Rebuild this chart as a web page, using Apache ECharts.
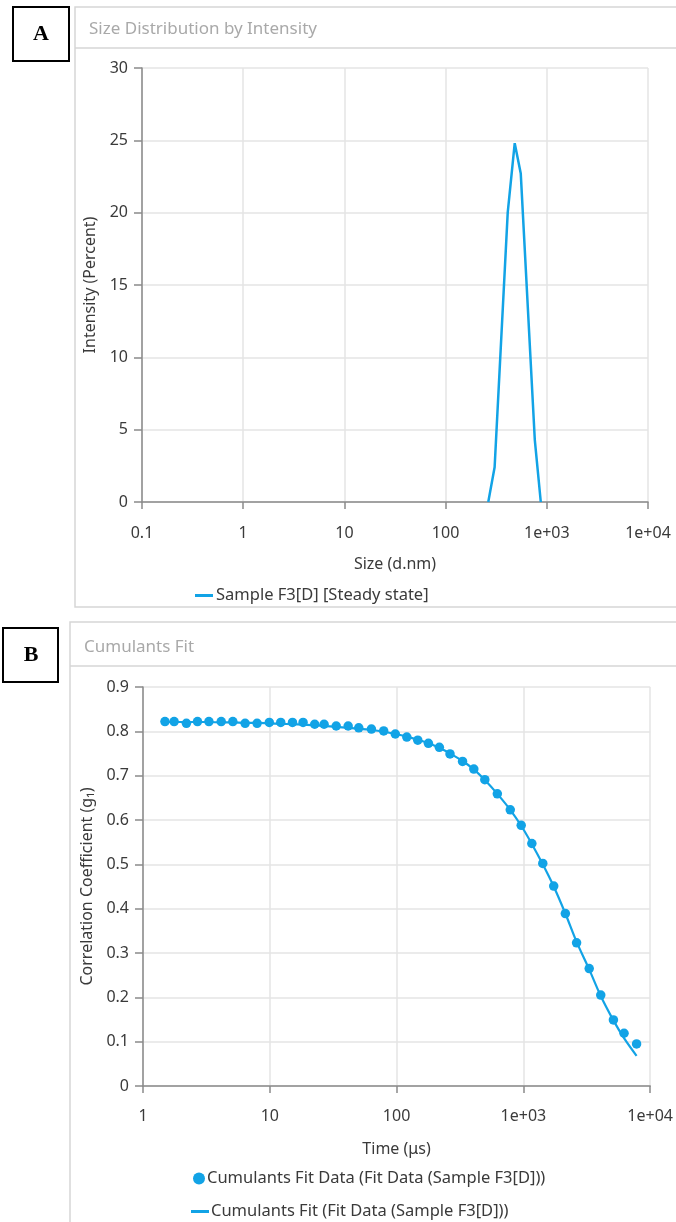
<!DOCTYPE html>
<html>
<head>
<meta charset="utf-8">
<script src="https://cdn.jsdelivr.net/npm/echarts@6/dist/echarts.min.js"></script>
<style>
html,body{margin:0;padding:0;background:#fff;}
#c{width:676px;height:1222px;}
</style>
</head>
<body>
<div id="c"></div>
<script>
// ---- Panel A data: size distribution by intensity ----
var sizeNm = [264, 305, 411, 482, 553, 761, 872];
var intensityPct = [0, 2.4, 20.0, 24.8, 22.7, 4.3, 0];
var sizeTickLabels = ['0.1', '1', '10', '100', '1e+03', '1e+04'];
var intensityTicks = [0, 5, 10, 15, 20, 25, 30];

// ---- Panel B data: cumulants fit ----
var timeUs = [1.49, 1.76, 2.20, 2.69, 3.31, 4.14, 5.11, 6.39, 7.94, 9.91,
  12.2, 15.1, 18.3, 22.6, 26.8, 33.4, 41.5, 50.3, 63.3, 79.1,
  97.7, 120.4, 146.9, 178.2, 217.4, 263.8, 331.3, 406.6, 496.5, 623,
  788, 961, 1166, 1422, 1735, 2143, 2628, 3304, 4076, 5129, 6220, 7811];
var gData = [0.822, 0.822, 0.818, 0.822, 0.822, 0.822, 0.822, 0.818, 0.818, 0.820,
  0.820, 0.820, 0.820, 0.816, 0.816, 0.812, 0.812, 0.808, 0.805, 0.801,
  0.794, 0.787, 0.780, 0.773, 0.764, 0.749, 0.732, 0.715, 0.691, 0.659,
  0.623, 0.588, 0.547, 0.502, 0.451, 0.389, 0.323, 0.265, 0.205, 0.149, 0.119, 0.095];
var gFit = [0.821, 0.821, 0.821, 0.821, 0.821, 0.820, 0.820, 0.819, 0.819, 0.818,
  0.817, 0.816, 0.815, 0.814, 0.812, 0.810, 0.808, 0.806, 0.803, 0.799,
  0.794, 0.788, 0.781, 0.773, 0.763, 0.750, 0.733, 0.714, 0.690, 0.659,
  0.623, 0.587, 0.546, 0.500, 0.450, 0.389, 0.325, 0.263, 0.203, 0.148, 0.108, 0.068];
var timeTickLabels = ['1', '10', '100', '1e+03', '1e+04'];
var gTicks = [0, 0.1, 0.2, 0.3, 0.4, 0.5, 0.6, 0.7, 0.8, 0.9];

var BLUE = '#12a3e6';
var FONT = '"Noto Sans", "Open Sans", sans-serif';
var AXIS = '#8a8a8a';
var GRID = '#e4e4e4';
var TXT = '#3a3a3a';
var FS = 16;

function zip(a, b) { return a.map(function (v, i) { return [v, b[i]]; }); }

function logLabel(labels, minExp) {
  return function (v) {
    var k = Math.round(Math.log(v) / Math.LN10) - minExp;
    return labels[k] !== undefined ? labels[k] : '';
  };
}

var chart = echarts.init(document.getElementById('c'), null, { renderer: 'canvas' });

function xAxisCommon(min, max, labels, minExp, name, gap, margin) {
  return {
    type: 'log', logBase: 10, min: min, max: max,
    name: name, nameLocation: 'middle', nameGap: gap,
    nameTextStyle: { color: TXT, fontSize: FS, fontFamily: FONT },
    axisLine: { show: true, lineStyle: { color: AXIS, width: 1.5 } },
    axisTick: { show: true, inside: false, length: 7, lineStyle: { color: AXIS, width: 1.5 } },
    axisLabel: { color: TXT, fontSize: FS, fontFamily: FONT, margin: margin, formatter: logLabel(labels, minExp) },
    splitLine: { show: true, lineStyle: { color: GRID, width: 1.5 } },
    minorTick: { show: false }
  };
}
function yAxisCommon(min, max, interval, name, gap, fmt) {
  return {
    type: 'value', min: min, max: max, interval: interval,
    name: name, nameLocation: 'middle', nameGap: gap,
    nameTextStyle: { color: TXT, fontSize: FS, fontFamily: FONT },
    axisLine: { show: true, lineStyle: { color: AXIS, width: 1.5 } },
    axisTick: { show: true, length: 8, lineStyle: { color: AXIS, width: 1.5 } },
    axisLabel: { color: TXT, fontSize: FS, fontFamily: FONT, margin: 14, formatter: fmt },
    splitLine: { show: true, lineStyle: { color: GRID, width: 1.5 } }
  };
}

var option = {
  animation: false,
  backgroundColor: '#ffffff',
  grid: [
    { left: 142, top: 68, width: 506, height: 434 },
    { left: 143, top: 687, width: 510, height: 399 }
  ],
  xAxis: [
    Object.assign(xAxisCommon(0.1, 10000, sizeTickLabels, -1, 'Size (d.nm)', 54, 23), { gridIndex: 0 }),
    Object.assign(xAxisCommon(1, 10000, timeTickLabels, 0, 'Time (\u03bcs)', 55, 22), { gridIndex: 1 })
  ],
  yAxis: [
    Object.assign(yAxisCommon(intensityTicks[0], intensityTicks[intensityTicks.length - 1], 5, 'Intensity (Percent)', 41,
      function (v) { return String(v); }), { gridIndex: 0 }),
    Object.assign(yAxisCommon(gTicks[0], gTicks[gTicks.length - 1], 0.1, 'Correlation Coefficient (g\u2081)', 47,
      function (v) { return String(Math.round(v * 10) / 10); }), { gridIndex: 1 })
  ],
  legend: [
    {
      data: [{ name: 'Sample F3[D] [Steady state]', icon: 'rect' }],
      left: 190, top: 582, itemWidth: 18, itemHeight: 3, itemGap: 10,
      textStyle: { color: TXT, fontSize: 16.5, fontFamily: FONT, padding: [0, 0, 0, -2] }
    },
    {
      data: [{ name: 'Cumulants Fit Data (Fit Data (Sample F3[D]))', icon: 'circle' }],
      left: 188, top: 1165, itemWidth: 12, itemHeight: 12,
      textStyle: { color: TXT, fontSize: 16.5, fontFamily: FONT, padding: [0, 0, 0, -3] }
    },
    {
      data: [{ name: 'Cumulants Fit (Fit Data (Sample F3[D]))', icon: 'rect' }],
      left: 186, top: 1198, itemWidth: 18, itemHeight: 3,
      textStyle: { color: TXT, fontSize: 16.5, fontFamily: FONT, padding: [0, 0, 0, -3] }
    }
  ],
  graphic: [
    // Panel A frame
    { type: 'rect', shape: { x: 75, y: 7, width: 640, height: 600 }, style: { fill: 'none', stroke: '#d6d6d6', lineWidth: 1.5 }, z: 0 },
    { type: 'line', shape: { x1: 75, y1: 48, x2: 676, y2: 48 }, style: { stroke: '#d6d6d6', lineWidth: 1.5 }, z: 0 },
    { type: 'text', left: 89, top: 21, style: { text: 'Size Distribution by Intensity', fill: '#a9a9a9', font: '17px ' + FONT } },
    // Panel B frame
    { type: 'rect', shape: { x: 70, y: 622, width: 650, height: 640 }, style: { fill: 'none', stroke: '#d6d6d6', lineWidth: 1.5 }, z: 0 },
    { type: 'line', shape: { x1: 70, y1: 666, x2: 676, y2: 666 }, style: { stroke: '#d6d6d6', lineWidth: 1.5 }, z: 0 },
    { type: 'text', left: 84, top: 639, style: { text: 'Cumulants Fit', fill: '#a9a9a9', font: '17px ' + FONT } },
    // Label boxes
    { type: 'rect', shape: { x: 13, y: 7, width: 56, height: 54 }, style: { fill: '#fff', stroke: '#000', lineWidth: 2 }, z: 10 },
    { type: 'text', x: 41, y: 34, style: { text: 'A', fill: '#000', font: 'bold 22px "Liberation Serif", "DejaVu Serif", serif', textAlign: 'center', textVerticalAlign: 'middle' }, z: 11 },
    { type: 'rect', shape: { x: 3, y: 628, width: 55, height: 54 }, style: { fill: '#fff', stroke: '#000', lineWidth: 2 }, z: 10 },
    { type: 'text', x: 31, y: 655, style: { text: 'B', fill: '#000', font: 'bold 22px "Liberation Serif", "DejaVu Serif", serif', textAlign: 'center', textVerticalAlign: 'middle' }, z: 11 }
  ],
  series: [
    {
      name: 'Sample F3[D] [Steady state]', type: 'line', xAxisIndex: 0, yAxisIndex: 0,
      data: zip(sizeNm, intensityPct), showSymbol: false, symbol: 'none',
      lineStyle: { color: BLUE, width: 2.5 }, itemStyle: { color: BLUE }
    },
    {
      name: 'Cumulants Fit (Fit Data (Sample F3[D]))', type: 'line', xAxisIndex: 1, yAxisIndex: 1,
      data: zip(timeUs, gFit), showSymbol: false, symbol: 'none', smooth: 0.3,
      lineStyle: { color: BLUE, width: 2.2 }, itemStyle: { color: BLUE }, z: 2
    },
    {
      name: 'Cumulants Fit Data (Fit Data (Sample F3[D]))', type: 'scatter', xAxisIndex: 1, yAxisIndex: 1,
      data: zip(timeUs, gData), symbol: 'circle', symbolSize: 9.5,
      itemStyle: { color: BLUE, opacity: 1 }, z: 3
    }
  ]
};
chart.setOption(option);
</script>
</body>
</html>
